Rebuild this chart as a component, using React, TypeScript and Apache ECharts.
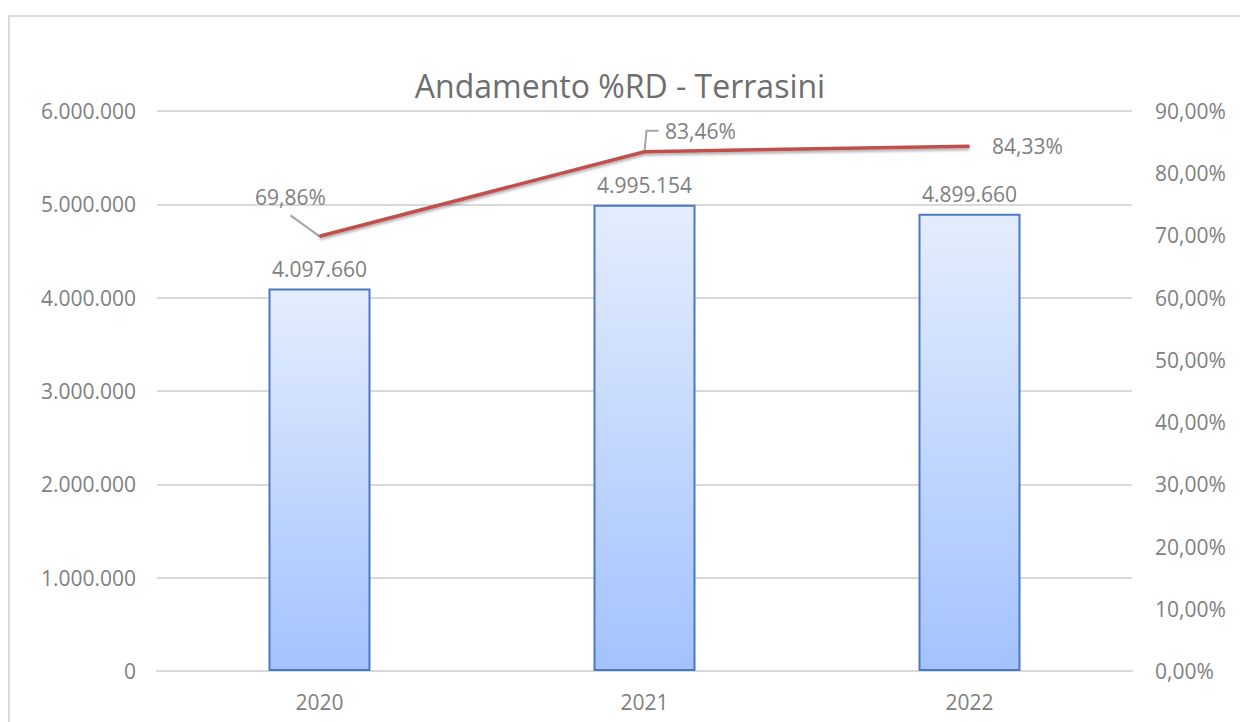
import React, { useEffect, useRef } from "react";
import * as echarts from "echarts";

const categories = ["2020", "2021", "2022"];
const barValues = [4097660, 4995154, 4899660];
const rdPercent = [69.86, 83.46, 84.33];
const titleText = "Andamento %RD - Terrasini";

const FONT = "'Open Sans', 'Noto Sans', sans-serif";
const GRAY = "#808080";
const FS = 21;

function fmtThousands(v: number): string {
  const s = Math.round(v).toString();
  return s.replace(/\B(?=(\d{3})+(?!\d))/g, ".");
}
function fmtPct(v: number): string {
  return v.toFixed(2).replace(".", ",") + "%";
}

// label placement (style), per point of the line series
const lineLabelOffsets: [number, number][] = [
  [-29, -39],
  [56, -21],
  [58, 0],
];

export default function App() {
  const ref = useRef<HTMLDivElement>(null);
  useEffect(() => {
    document.body.style.margin = "0";
    if (!ref.current) return;
    const chart = echarts.init(ref.current, undefined, { renderer: "svg" });
    chart.setOption({
      animation: false,
      backgroundColor: "#ffffff",
      title: {
        text: titleText,
        left: "center",
        top: 64,
        textStyle: { fontFamily: FONT, fontSize: 32, fontWeight: "normal", color: "#6e6e6e" },
      },
      grid: { left: 157, right: 108, top: 111, bottom: 51 },
      xAxis: {
        type: "category",
        data: categories,
        axisLine: { lineStyle: { color: "#d9d9d9", width: 2 } },
        axisTick: { show: false },
        axisLabel: { fontFamily: FONT, fontSize: FS, color: GRAY, margin: 20 },
      },
      yAxis: [
        {
          type: "value",
          min: 0,
          max: 6000000,
          interval: 1000000,
          axisLine: { show: false },
          axisTick: { show: false },
          splitLine: { lineStyle: { color: "#d9d9d9", width: 2 } },
          axisLabel: {
            fontFamily: FONT,
            fontSize: FS,
            color: GRAY,
            margin: 21,
            formatter: (v: number) => fmtThousands(v),
          },
        },
        {
          type: "value",
          min: 0,
          max: 90,
          interval: 10,
          axisLine: { show: false },
          axisTick: { show: false },
          splitLine: { show: false },
          axisLabel: {
            fontFamily: FONT,
            fontSize: FS,
            color: GRAY,
            margin: 23,
            formatter: (v: number) => fmtPct(v),
          },
        },
      ],
      series: [
        {
          type: "bar",
          yAxisIndex: 0,
          data: barValues,
          barWidth: 102,
          itemStyle: {
            color: new echarts.graphic.LinearGradient(0, 0, 0, 1, [
              { offset: 0, color: "#e4edfd" },
              { offset: 1, color: "#a3c2ff" },
            ]),
            borderColor: "#4a78c2",
            borderWidth: 2,
          },
          label: {
            show: true,
            position: "top",
            distance: 9,
            fontFamily: FONT,
            fontSize: FS,
            color: GRAY,
            formatter: (p: any) => fmtThousands(p.value),
          },
        },
        {
          type: "line",
          yAxisIndex: 1,
          data: rdPercent.map((v, i) => ({
            value: v,
            label: { offset: lineLabelOffsets[i] },
          })),
          symbol: "circle",
          symbolSize: 1,
          itemStyle: { color: "#c0504d" },
          lineStyle: {
            color: "#c0504d",
            width: 3.5,
            shadowColor: "rgba(0,0,0,0.35)",
            shadowBlur: 3,
            shadowOffsetY: 2,
          },
          label: {
            show: true,
            position: "inside",
            fontFamily: FONT,
            fontSize: FS,
            color: GRAY,
            formatter: (p: any) => fmtPct(p.value),
          },
          z: 5,
        },
      ],
    });

    const p0 = chart.convertToPixel({ seriesIndex: 1 }, [0, rdPercent[0]]) as number[];
    const p1 = chart.convertToPixel({ seriesIndex: 1 }, [1, rdPercent[1]]) as number[];
    chart.setOption({
      graphic: [
        {
          type: "rect",
          shape: { x: 9, y: 16, width: 1260, height: 740 },
          style: { fill: "none", stroke: "#d9d9d9", lineWidth: 2 },
          silent: true,
        },
        {
          type: "polyline",
          shape: { points: [[p0[0], p0[1]], [p0[0] - 29, p0[1] - 21]] },
          style: { stroke: "#a6a6a6", lineWidth: 2, fill: "none" },
          silent: true,
        },
        {
          type: "polyline",
          shape: {
            points: [
              [p1[0], p1[1]],
              [p1[0] + 2, p1[1] - 21],
              [p1[0] + 14, p1[1] - 21],
            ],
          },
          style: { stroke: "#a6a6a6", lineWidth: 2, fill: "none" },
          silent: true,
        },
      ],
    });

    return () => chart.dispose();
  }, []);
  return <div ref={ref} style={{ width: 1240, height: 722 }} />;
}
